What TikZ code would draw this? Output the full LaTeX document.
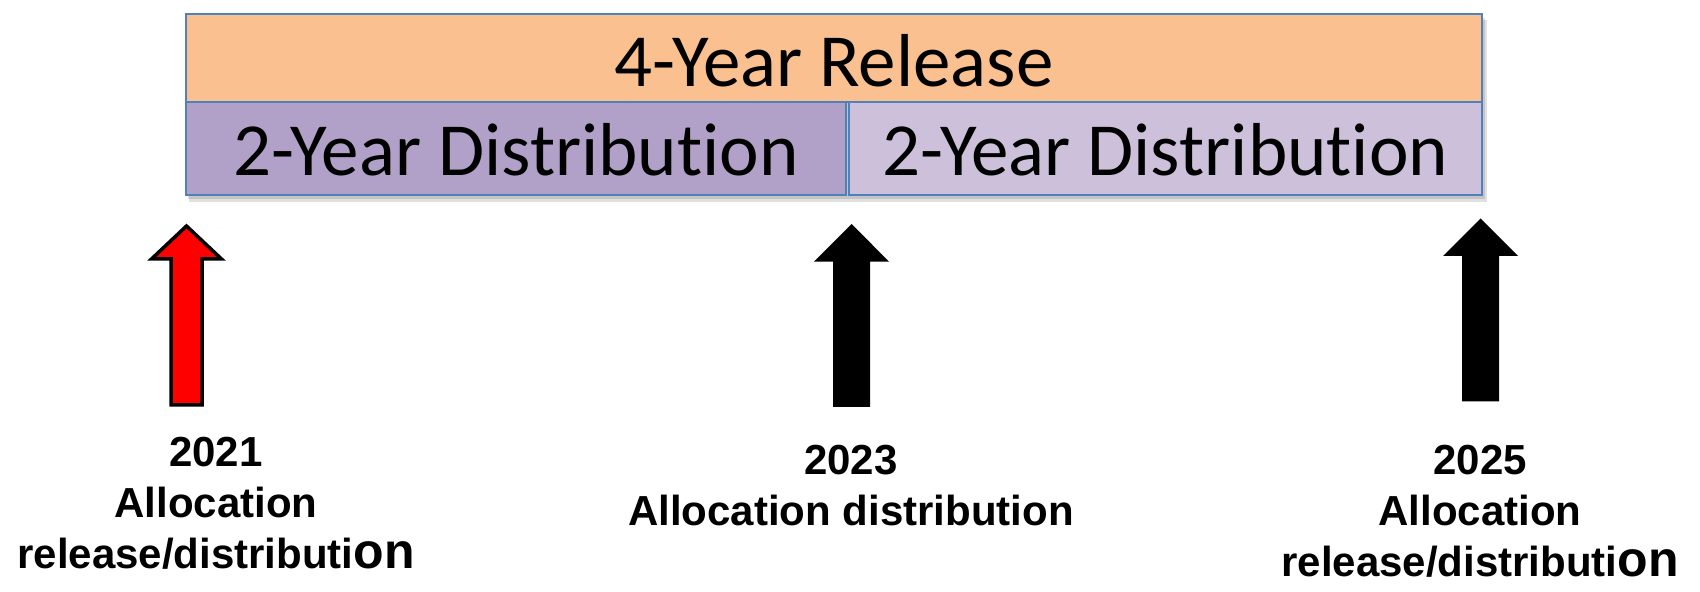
\documentclass[tikz,border=0pt]{standalone}
\usepackage{fontspec}
\newfontfamily\boxfont{Carlito}[Ligatures=NoCommon]
\newfontfamily\labfont{Liberation Sans}
\definecolor{relfill}{HTML}{FAC090}
\definecolor{distA}{HTML}{B1A0C7}
\definecolor{distB}{HTML}{CCC0DA}
\definecolor{edgeblue}{HTML}{4F81BD}
\definecolor{arrowred}{HTML}{FF0000}
\begin{document}
\begin{tikzpicture}[x=0.5pt,y=-0.5pt,
  bar/.style={draw=edgeblue, line width=1pt, inner sep=0pt, outer sep=0pt},
  bartext/.style={font=\boxfont\fontsize{37.5}{43}\selectfont, anchor=base, inner sep=0pt},
  lab/.style={font=\labfont\bfseries\fontsize{21}{25.5}\selectfont, align=center, anchor=north, inner sep=0pt},
  redarrow/.style={fill=arrowred, draw=black, line width=1.75pt, miter limit=10},
  blackarrow/.style={fill=black, draw=none}]
\useasboundingbox (0,0) rectangle (1700,592);
% shadows
\fill[black, opacity=0.12] (189,20) rectangle (1487,202);
\fill[black, opacity=0.12] (188,18) rectangle (1485,199);
% bars
\node[bar, fill=relfill, minimum width=648pt, minimum height=44pt] (rel) at (834,58) {};
\node[bar, fill=distA, minimum width=329.75pt, minimum height=46.5pt] (distl) at (515.75,148.5) {};
\node[bar, fill=distB, minimum width=316.5pt, minimum height=46.5pt] (distr) at (1165.5,148.5) {};
\node[bartext] (reltext) at (834,87) {4-Year Release};
\node[bartext] (distltext) at (516,176) {2-Year Distribution};
\node[bartext] (distrtext) at (1165.5,176) {2-Year Distribution};
% arrows
\path[redarrow] (186.5,226) coordinate (a1tip) -- (221.5,259) -- (202,259) -- (202,405) -- (171,405) -- (171,259) -- (151.5,259) -- cycle;
\path[blackarrow] (851.7,224) coordinate (a2tip) -- (889,261.7) -- (870,261.7) -- (870,407) -- (833,407) -- (833,261.7) -- (814,261.7) -- cycle;
\path[blackarrow] (1480.5,218.5) coordinate (a3tip) -- (1518,256) -- (1499,256) -- (1499,401.5) -- (1462,401.5) -- (1462,256) -- (1443,256) -- cycle;
% labels
\node[lab] (lab2021) at (216,437) {2021\\Allocation\\release/distributi{\fontsize{25}{25.5}\selectfont on}};
\node[lab] (lab2023) at (851,444.5) {2023\\Allocation distribution};
\node[lab] (lab2025) at (1480,445) {2025\\Allocation\\release/distributi{\fontsize{25}{25.5}\selectfont on}};
\end{tikzpicture}
\end{document}
